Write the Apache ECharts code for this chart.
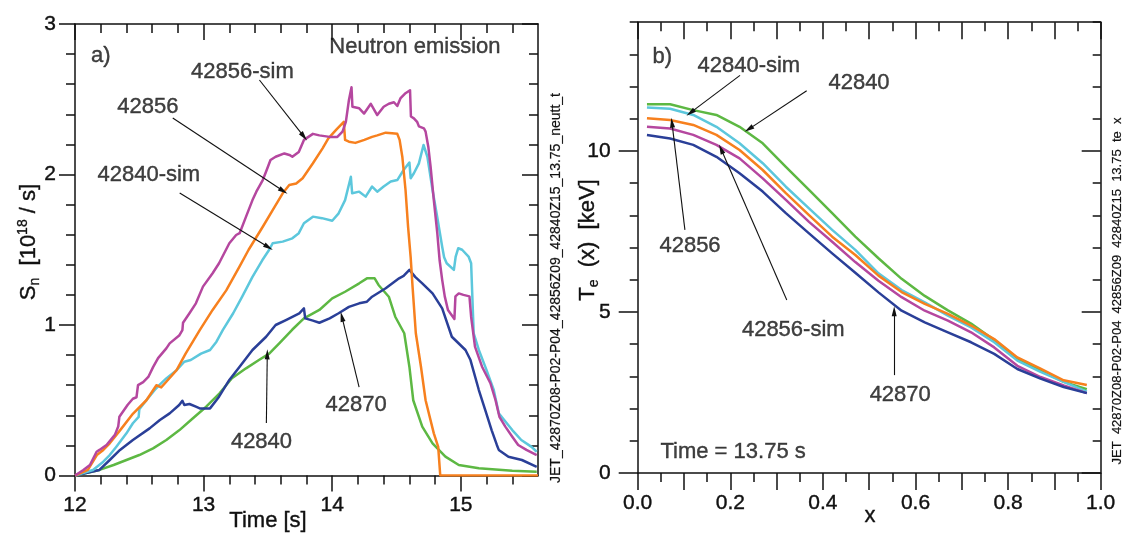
<!DOCTYPE html>
<html>
<head>
<meta charset="utf-8">
<script src="https://cdn.jsdelivr.net/npm/echarts@6/dist/echarts.min.js"></script>
<style>
  html, body { margin: 0; padding: 0; background: #fff; }
  #chart { width: 1122px; height: 536px; }
</style>
</head>
<body>
<div id="chart"></div>
<script>
// ---------- a) Neutron emission S_n [1e18/s] versus time [s] ----------
const sn42856sim = [[12.0,0],[12.065,0.037],[12.116,0.07],[12.168,0.158],[12.19,0.17],[12.245,0.203],[12.31,0.27],[12.336,0.325],[12.345,0.39],[12.41,0.47],[12.45,0.51],[12.478,0.52],[12.49,0.6],[12.53,0.62],[12.57,0.655],[12.607,0.72],[12.646,0.78],[12.71,0.845],[12.736,0.878],[12.81,0.93],[12.835,0.966],[12.84,1.015],[12.89,1.078],[12.94,1.144],[12.995,1.255],[13.07,1.344],[13.12,1.41],[13.2,1.543],[13.253,1.598],[13.28,1.61],[13.33,1.72],[13.38,1.83],[13.41,1.886],[13.46,1.963],[13.486,2.02],[13.52,2.096],[13.56,2.118],[13.628,2.14],[13.667,2.13],[13.69,2.118],[13.74,2.15],[13.78,2.23],[13.85,2.27],[13.9,2.26],[13.98,2.25],[14.04,2.25],[14.08,2.285],[14.106,2.35],[14.13,2.495],[14.15,2.58],[14.157,2.45],[14.21,2.44],[14.248,2.405],[14.3,2.47],[14.35,2.395],[14.4,2.45],[14.44,2.47],[14.48,2.48],[14.506,2.455],[14.53,2.505],[14.57,2.54],[14.605,2.56],[14.612,2.385],[14.635,2.373],[14.66,2.35],[14.674,2.32],[14.713,2.307],[14.726,2.285],[14.747,2.185],[14.765,2.05],[14.79,1.83],[14.817,1.61],[14.835,1.43],[14.855,1.3],[14.875,1.19],[14.9,1.1],[14.95,1.04],[14.958,1.19],[14.984,1.21],[15.02,1.2],[15.067,1.19],[15.08,1.055],[15.11,0.856],[15.165,0.723],[15.23,0.613],[15.27,0.5],[15.3,0.39],[15.346,0.325],[15.4,0.258],[15.446,0.203],[15.51,0.17],[15.59,0.136]];
const sn42856 = [[12.0,0],[12.1,0.037],[12.17,0.136],[12.22,0.17],[12.27,0.214],[12.35,0.3],[12.45,0.41],[12.555,0.5],[12.633,0.6],[12.67,0.585],[12.71,0.623],[12.79,0.7],[12.86,0.81],[12.97,0.966],[13.07,1.1],[13.176,1.23],[13.28,1.39],[13.35,1.5],[13.46,1.653],[13.537,1.764],[13.615,1.875],[13.666,1.93],[13.72,1.94],[13.77,1.975],[13.85,2.075],[13.925,2.174],[13.97,2.24],[14.03,2.296],[14.09,2.35],[14.1,2.23],[14.13,2.218],[14.18,2.21],[14.25,2.23],[14.31,2.25],[14.35,2.26],[14.416,2.278],[14.465,2.274],[14.506,2.27],[14.524,2.23],[14.545,2.118],[14.57,1.897],[14.59,1.65],[14.61,1.45],[14.625,1.25],[14.65,0.945],[14.69,0.723],[14.726,0.5],[14.79,0.28],[14.824,0.19],[14.84,0],[15.6,0]];
const sn42840sim = [[12.0,0],[12.14,0.037],[12.22,0.092],[12.27,0.136],[12.32,0.19],[12.4,0.28],[12.45,0.347],[12.495,0.39],[12.5,0.44],[12.555,0.5],[12.62,0.568],[12.655,0.6],[12.71,0.645],[12.79,0.7],[12.85,0.756],[12.9,0.767],[12.98,0.81],[13.05,0.834],[13.1,0.889],[13.15,0.967],[13.23,1.078],[13.3,1.188],[13.38,1.32],[13.456,1.43],[13.51,1.5],[13.537,1.543],[13.615,1.554],[13.69,1.576],[13.74,1.61],[13.78,1.676],[13.85,1.72],[13.92,1.71],[14.0,1.693],[14.05,1.742],[14.1,1.83],[14.145,1.985],[14.155,1.875],[14.21,1.886],[14.26,1.853],[14.31,1.92],[14.35,1.886],[14.4,1.92],[14.455,1.953],[14.506,1.963],[14.555,2.03],[14.6,2.08],[14.61,1.975],[14.635,2.008],[14.674,2.074],[14.71,2.196],[14.74,2.118],[14.78,1.897],[14.816,1.72],[14.855,1.52],[14.87,1.45],[14.89,1.41],[14.946,1.366],[14.96,1.455],[14.98,1.51],[15.01,1.5],[15.06,1.455],[15.08,1.41],[15.1,0.945],[15.14,0.834],[15.2,0.7],[15.256,0.568],[15.295,0.413],[15.4,0.302],[15.47,0.236],[15.55,0.19],[15.59,0.158]];
const sn42870 = [[12.0,0],[12.19,0.037],[12.27,0.103],[12.35,0.17],[12.45,0.236],[12.58,0.313],[12.66,0.369],[12.736,0.413],[12.81,0.468],[12.835,0.497],[12.85,0.468],[12.89,0.475],[12.94,0.457],[12.97,0.446],[13.05,0.446],[13.12,0.524],[13.2,0.635],[13.28,0.723],[13.38,0.834],[13.486,0.922],[13.56,1.0],[13.64,1.033],[13.744,1.078],[13.78,1.11],[13.79,1.044],[13.85,1.029],[13.9,1.015],[13.98,1.044],[14.05,1.078],[14.13,1.12],[14.21,1.144],[14.27,1.155],[14.31,1.188],[14.416,1.244],[14.52,1.31],[14.555,1.326],[14.6,1.366],[14.645,1.32],[14.7,1.277],[14.78,1.21],[14.855,1.11],[14.93,0.922],[15.036,0.834],[15.075,0.767],[15.14,0.568],[15.19,0.435],[15.24,0.3],[15.28,0.203],[15.295,0.17],[15.37,0.125],[15.475,0.103],[15.59,0.058]];
const sn42840 = [[12.0,0],[12.19,0.037],[12.3,0.07],[12.4,0.103],[12.5,0.136],[12.607,0.18],[12.71,0.236],[12.81,0.3],[12.917,0.38],[13.02,0.457],[13.124,0.546],[13.22,0.646],[13.33,0.712],[13.43,0.767],[13.51,0.81],[13.59,0.88],[13.69,0.97],[13.78,1.044],[13.9,1.1],[14.0,1.177],[14.1,1.221],[14.21,1.277],[14.27,1.31],[14.33,1.31],[14.36,1.266],[14.44,1.188],[14.49,1.055],[14.56,0.945],[14.6,0.723],[14.63,0.5],[14.7,0.325],[14.78,0.214],[14.88,0.125],[14.984,0.07],[15.14,0.048],[15.4,0.032],[15.59,0.025]];

// ---------- b) Electron temperature profile T_e(x) [keV] at t = 13.75 s ----------
const profileX   = [0.02,0.07,0.12,0.17,0.22,0.27,0.32,0.37,0.42,0.47,0.52,0.57,0.62,0.67,0.72,0.77,0.82,0.87,0.92,0.97];
const te42840    = [11.45,11.45,11.27,11.12,10.75,10.24,9.51,8.79,8.07,7.34,6.67,6.03,5.50,5.05,4.64,4.13,3.55,3.19,2.83,2.60];
const te42840sim = [11.35,11.31,11.12,10.75,10.24,9.62,8.89,8.22,7.55,6.93,6.20,5.68,5.30,4.89,4.52,4.06,3.49,3.14,2.83,2.53];
const te42856    = [11.02,10.96,10.81,10.50,10.03,9.41,8.69,8.01,7.34,6.77,6.13,5.62,5.25,4.94,4.58,4.16,3.59,3.24,2.88,2.73];
const te42856sim = [10.75,10.70,10.50,10.19,9.77,9.15,8.48,7.80,7.18,6.55,5.97,5.46,5.04,4.73,4.37,3.90,3.33,2.98,2.72,2.48];
const te42870    = [10.50,10.39,10.19,9.82,9.31,8.74,8.07,7.44,6.82,6.22,5.61,5.04,4.68,4.37,4.06,3.70,3.23,2.93,2.67,2.48];

// ---------- ticks and tick labels ----------
const timeMajor  = [12, 13, 14, 15];
const timeMinor  = [12.2,12.4,12.6,12.8,13.2,13.4,13.6,13.8,14.2,14.4,14.6,14.8,15.2,15.4];
const snMajor    = [0, 1, 2, 3];
const snMinor    = [0.2,0.4,0.6,0.8,1.2,1.4,1.6,1.8,2.2,2.4,2.6,2.8];
const xMajor     = [0,0.1,0.2,0.3,0.4,0.5,0.6,0.7,0.8,0.9,1.0];
const xMinor     = [0.05,0.15,0.25,0.35,0.45,0.55,0.65,0.75,0.85,0.95];
const xLabels    = [0,0.2,0.4,0.6,0.8,1.0];
const teMajor    = [0, 5, 10];
const teMinor    = [1,2,3,4,6,7,8,9,11,12,13,14];

// ---------- annotations: [text, x, y] and arrows [x0, y0, x1, y1] ----------
const notesA  = [['a)',12.2,2.787],['Neutron emission',14.643,2.847],['42856-sim',13.302,2.681],['42856',12.566,2.449],['42840-sim',12.574,1.997],['42840',13.45,0.223],['42870',14.186,0.468]];
const arrowsA = [[13.434,2.628,13.78,2.252],[12.76,2.375,13.62,1.89],[12.814,1.877,13.505,1.516],[13.488,0.349,13.495,0.805],[14.209,0.588,14.075,1.055]];
const notesB  = [['b)',0.053,12.92],['42840-sim',0.240,12.64],['42840',0.478,12.11],['42856',0.113,7.05],['42856-sim',0.336,4.44],['42870',0.567,2.42],['Time = 13.75 s',0.206,0.65]];
const arrowsB = [[0.221,12.35,0.114,11.19],[0.365,11.87,0.240,10.68],[0.102,7.55,0.074,10.88],[0.322,5.37,0.180,10.06],[0.554,3.04,0.554,5.02]];

const INK  = '#111111';
const FONT = '"Liberation Sans", Arial, Helvetica, sans-serif';
const COLORS = { s56: '#b5479f', e56: '#f7801e', s40: '#5cc7dc', e70: '#2a3f98', e40: '#5db843' };

function axis(o) {
  return {
    type: 'value', gridIndex: o.grid, position: o.pos, min: o.min, max: o.max,
    axisLine: { show: !!o.line, onZero: false, lineStyle: { color: INK, width: 1.5 } },
    axisTick: { show: true, inside: !!o.inside, length: o.len, customValues: o.ticks,
                lineStyle: { color: INK, width: 1.5 } },
    axisLabel: o.labels ? { show: true, customValues: o.labels, formatter: o.fmt, margin: o.margin,
                            fontSize: 21, color: INK, fontFamily: FONT,
                            textBorderColor: INK, textBorderWidth: 0.4 } : { show: false },
    splitLine: { show: false }, minorTick: { show: false }, minorSplitLine: { show: false },
    axisPointer: { show: false }, silent: true
  };
}

const xAxes = [
  axis({ grid: 0, pos: 'bottom', min: 12, max: 15.6, line: true, len: 16, ticks: timeMajor, labels: timeMajor, fmt: v => String(v), margin: 19 }),
  axis({ grid: 0, pos: 'bottom', min: 12, max: 15.6, len: 9, ticks: timeMinor }),
  axis({ grid: 0, pos: 'top', min: 12, max: 15.6, line: true, inside: true, len: 16, ticks: timeMajor }),
  axis({ grid: 0, pos: 'top', min: 12, max: 15.6, inside: true, len: 9, ticks: timeMinor }),
  axis({ grid: 1, pos: 'bottom', min: 0, max: 1, line: true, len: 17, ticks: xMajor, labels: xLabels, fmt: v => Number(v).toFixed(1), margin: 20 }),
  axis({ grid: 1, pos: 'bottom', min: 0, max: 1, len: 9, ticks: xMinor }),
  axis({ grid: 1, pos: 'top', min: 0, max: 1, line: true, inside: true, len: 17, ticks: xMajor }),
  axis({ grid: 1, pos: 'top', min: 0, max: 1, inside: true, len: 9, ticks: xMinor })
];
const yAxes = [
  axis({ grid: 0, pos: 'left', min: 0, max: 3, line: true, len: 16, ticks: snMajor, labels: snMajor, fmt: v => String(v), margin: 19 }),
  axis({ grid: 0, pos: 'left', min: 0, max: 3, len: 9, ticks: snMinor }),
  axis({ grid: 0, pos: 'right', min: 0, max: 3, line: true, inside: true, len: 16, ticks: snMajor }),
  axis({ grid: 0, pos: 'right', min: 0, max: 3, inside: true, len: 9, ticks: snMinor }),
  axis({ grid: 1, pos: 'left', min: 0, max: 14, line: true, len: 19, ticks: teMajor, labels: teMajor, fmt: v => String(v), margin: 27 }),
  axis({ grid: 1, pos: 'left', min: 0, max: 14, len: 8, ticks: teMinor }),
  axis({ grid: 1, pos: 'right', min: 0, max: 14, line: true, inside: true, len: 19, ticks: teMajor }),
  axis({ grid: 1, pos: 'right', min: 0, max: 14, inside: true, len: 8, ticks: teMinor })
];

function curve(name, data, color, axisIdx) {
  return {
    type: 'line', name, data, xAxisIndex: axisIdx, yAxisIndex: axisIdx,
    showSymbol: false, symbol: 'none', silent: true,
    lineStyle: { color, width: 2.5, join: 'round' }, itemStyle: { color },
    emphasis: { disabled: true }
  };
}
const zipProfile = vals => profileX.map((x, i) => [x, vals[i]]);

function notes(list, arrows, axisIdx) {
  return {
    type: 'scatter', xAxisIndex: axisIdx, yAxisIndex: axisIdx, silent: true, z: 5,
    symbol: 'circle', symbolSize: 1, itemStyle: { color: 'transparent' },
    data: list.map(n => ({ name: n[0], value: [n[1], n[2]] })),
    label: { show: true, position: 'inside', formatter: '{b}', fontSize: 22, color: INK,
             fontFamily: FONT, textBorderColor: INK, textBorderWidth: 0.4 },
    emphasis: { disabled: true },
    markLine: {
      silent: true, animation: false, symbol: ['none', 'triangle'],
      lineStyle: { color: INK, width: 1.1, type: 'solid' }, label: { show: false },
      emphasis: { disabled: true },
      data: arrows.map(a => [
        { coord: [a[0], a[1]], symbol: 'none' },
        { coord: [a[2], a[3]], symbol: 'triangle', symbolSize: [5, 10] }
      ])
    }
  };
}

const RICH = {
  m:  { fontSize: 22, lineHeight: 26, verticalAlign: 'middle', fontFamily: FONT, fill: INK, stroke: INK, lineWidth: 0.4 },
  sb: { fontSize: 14, lineHeight: 14, verticalAlign: 'bottom', padding: [20, 0, 0, 0], fontFamily: FONT, fill: INK, stroke: INK, lineWidth: 0.3 },
  sp: { fontSize: 14, lineHeight: 14, verticalAlign: 'top', padding: [0, 0, 20, 0], fontFamily: FONT, fill: INK, stroke: INK, lineWidth: 0.3 }
};
function label(text, x, y, size, rotate, rich, stroke) {
  return {
    type: 'text', x, y, rotation: rotate ? Math.PI / 2 : 0, silent: true,
    style: { text, rich, fontSize: size, fontFamily: FONT, fill: INK,
             stroke: INK, lineWidth: stroke,
             align: 'center', verticalAlign: 'middle', textAlign: 'center', textVerticalAlign: 'middle' }
  };
}

const option = {
  animation: false,
  backgroundColor: '#ffffff',
  grid: [
    { left: 75, top: 24, width: 463, height: 451.5, outerBoundsMode: 'none', containLabel: false },
    { left: 637.7, top: 22.2, width: 463, height: 450.8, outerBoundsMode: 'none', containLabel: false }
  ],
  xAxis: xAxes,
  yAxis: yAxes,
  series: [
    curve('42840', sn42840, COLORS.e40, 0),
    curve('42870', sn42870, COLORS.e70, 0),
    curve('42840-sim', sn42840sim, COLORS.s40, 0),
    curve('42856', sn42856, COLORS.e56, 0),
    curve('42856-sim', sn42856sim, COLORS.s56, 0),
    curve('42840', zipProfile(te42840), COLORS.e40, 4),
    curve('42840-sim', zipProfile(te42840sim), COLORS.s40, 4),
    curve('42856', zipProfile(te42856), COLORS.e56, 4),
    curve('42856-sim', zipProfile(te42856sim), COLORS.s56, 4),
    curve('42870', zipProfile(te42870), COLORS.e70, 4),
    notes(notesA, arrowsA, 0),
    notes(notesB, arrowsB, 4)
  ],
  graphic: [
    label('{m|S}{sb|n}{m|  [10}{sp|18}{m| / s]}', 29, 242, 22, true, RICH, 0.4),
    label('{m|T}{sb|e}{m|  (x)  [keV]}', 588, 240, 22, true, RICH, 0.4),
    label('Time [s]', 268, 521, 22, false, undefined, 0.4),
    label('x', 870, 516, 22, false, undefined, 0.4),
    label('JET_42870Z08-P02-P04_42856Z09_42840Z15_13.75_neutt_t', 556, 288, 14, true, undefined, 0.2),
    label('JET  42870Z08-P02-P04  42856Z09  42840Z15  13.75  te  x', 1117, 291, 13, true, undefined, 0.2)
  ]
};

const chart = echarts.init(document.getElementById('chart'), null, { renderer: 'canvas' });
chart.setOption(option);
</script>
</body>
</html>
